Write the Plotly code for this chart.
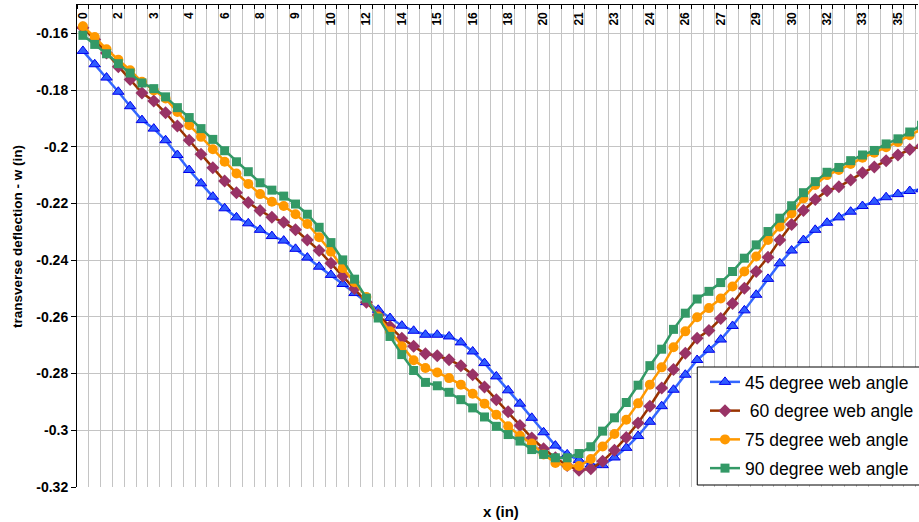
import plotly.graph_objects as go

# ---- data ----
x_tick_labels = ["0", "2", "3", "4", "6", "8", "9", "10", "12", "14", "15", "16",
                 "18", "20", "21", "23", "24", "26", "27", "29", "30", "32", "33", "35"]

w45 = [-0.1662, -0.1709, -0.1756, -0.1806, -0.1857, -0.1906, -0.1936, -0.1977, -0.2029, -0.2082,
       -0.2129, -0.2176, -0.2217, -0.2249, -0.2270, -0.2293, -0.2315, -0.2331, -0.2360, -0.2391,
       -0.2423, -0.2452, -0.2484, -0.2516, -0.2548, -0.2575, -0.2604, -0.2631, -0.2649, -0.2663,
       -0.2663, -0.2669, -0.2690, -0.2722, -0.2763, -0.2810, -0.2859, -0.2906, -0.2956, -0.3007,
       -0.3054, -0.3085, -0.3105, -0.3121, -0.3123, -0.3096, -0.3062, -0.3020, -0.2970, -0.2915,
       -0.2857, -0.2804, -0.2752, -0.2716, -0.2680, -0.2632, -0.2577, -0.2522, -0.2466, -0.2411,
       -0.2366, -0.2329, -0.2293, -0.2268, -0.2249, -0.2229, -0.2209, -0.2194, -0.2178, -0.2167,
       -0.2156, -0.2150]

w60 = [-0.1580, -0.1622, -0.1669, -0.1718, -0.1763, -0.1810, -0.1839, -0.1880, -0.1927, -0.1977,
       -0.2026, -0.2074, -0.2121, -0.2162, -0.2197, -0.2225, -0.2249, -0.2266, -0.2293, -0.2329,
       -0.2366, -0.2411, -0.2456, -0.2500, -0.2548, -0.2593, -0.2634, -0.2675, -0.2704, -0.2730,
       -0.2737, -0.2751, -0.2772, -0.2804, -0.2847, -0.2892, -0.2935, -0.2983, -0.3027, -0.3065,
       -0.3097, -0.3124, -0.3141, -0.3136, -0.3109, -0.3070, -0.3025, -0.2974, -0.2915, -0.2851,
       -0.2786, -0.2728, -0.2675, -0.2648, -0.2606, -0.2553, -0.2499, -0.2440, -0.2390, -0.2329,
       -0.2274, -0.2225, -0.2186, -0.2155, -0.2141, -0.2117, -0.2092, -0.2071, -0.2049, -0.2029,
       -0.2010, -0.1998]

w75 = [-0.1575, -0.1613, -0.1656, -0.1693, -0.1730, -0.1771, -0.1801, -0.1830, -0.1877, -0.1924,
       -0.1965, -0.2009, -0.2053, -0.2094, -0.2131, -0.2167, -0.2194, -0.2209, -0.2238, -0.2272,
       -0.2319, -0.2370, -0.2428, -0.2478, -0.2530, -0.2599, -0.2651, -0.2704, -0.2753, -0.2780,
       -0.2796, -0.2816, -0.2839, -0.2871, -0.2906, -0.2945, -0.2986, -0.3019, -0.3047, -0.3085,
       -0.3115, -0.3126, -0.3126, -0.3101, -0.3057, -0.3013, -0.2963, -0.2905, -0.2839, -0.2778,
       -0.2707, -0.2651, -0.2601, -0.2569, -0.2535, -0.2493, -0.2440, -0.2387, -0.2329, -0.2282,
       -0.2235, -0.2182, -0.2135, -0.2100, -0.2082, -0.2061, -0.2039, -0.2021, -0.2002, -0.1983,
       -0.1959, -0.1939]

w90 = [-0.1607, -0.1639, -0.1672, -0.1707, -0.1740, -0.1775, -0.1795, -0.1824, -0.1862, -0.1897,
       -0.1936, -0.1974, -0.2014, -0.2053, -0.2088, -0.2127, -0.2153, -0.2174, -0.2202, -0.2238,
       -0.2284, -0.2338, -0.2399, -0.2467, -0.2534, -0.2604, -0.2669, -0.2733, -0.2789, -0.2831,
       -0.2843, -0.2866, -0.2892, -0.2921, -0.2953, -0.2986, -0.3015, -0.3038, -0.3068, -0.3085,
       -0.3097, -0.3097, -0.3082, -0.3058, -0.3003, -0.2956, -0.2902, -0.2841, -0.2772, -0.2714,
       -0.2644, -0.2587, -0.2537, -0.2510, -0.2479, -0.2440, -0.2393, -0.2346, -0.2299, -0.2252,
       -0.2208, -0.2162, -0.2123, -0.2090, -0.2073, -0.2049, -0.2029, -0.2013, -0.1990, -0.1972,
       -0.1948, -0.1924]

series_names = ["45 degree web angle", "\u00a060 degree web angle",
                "75 degree web angle", "90 degree web angle"]
y_tick_vals = [-0.32, -0.30, -0.28, -0.26, -0.24, -0.22, -0.20, -0.18, -0.16]
y_tick_text = ["-0.32", "-0.3", "-0.28", "-0.26", "-0.24", "-0.22", "-0.2", "-0.18", "-0.16"]

# ---- figure ----
x_idx = list(range(len(w45)))
label_pos = x_idx[::3][:len(x_tick_labels)]

FONT = "Arial, 'Liberation Sans', sans-serif"
styles = [
    dict(line=dict(color="#3366FF", width=2.5),
         marker=dict(symbol="triangle-up", size=10, color="#2F5BFF",
                     line=dict(color="#0000EE", width=1))),
    dict(line=dict(color="#993300", width=2.5),
         marker=dict(symbol="diamond", size=10, color="#993366",
                     line=dict(color="#993366", width=0))),
    dict(line=dict(color="#FF9900", width=2.5),
         marker=dict(symbol="circle", size=10, color="#FF9900",
                     line=dict(color="#FF9900", width=0))),
    dict(line=dict(color="#339966", width=2.5),
         marker=dict(symbol="square", size=9, color="#339966",
                     line=dict(color="#339966", width=0))),
]

fig = go.Figure()
for i, (name, ys) in enumerate(zip(series_names, [w45, w60, w75, w90])):
    fig.add_trace(go.Scatter(x=x_idx, y=ys, mode="lines+markers", name=name,
                             legendgroup=str(i), **styles[i]))

PW = 842.0
PH = 482.0
def px_x(p):
    return (p - 77) / PW
def px_y(p):
    return (487 - p) / PH

fig.update_layout(
    width=919, height=522,
    margin=dict(l=77, r=0, t=5, b=35),
    paper_bgcolor="white", plot_bgcolor="white",
    font=dict(family=FONT, color="black"),
    showlegend=True,
    legend=dict(x=px_x(706), y=px_y(364), xanchor="left", yanchor="top",
                bgcolor="rgba(0,0,0,0)", borderwidth=0,
                font=dict(family=FONT, size=17.5, color="black"),
                tracegroupgap=3, itemwidth=30),
    xaxis=dict(side="top", range=[-0.5, 70.7],
               tickmode="array", tickvals=label_pos, ticktext=x_tick_labels,
               tickangle=-90, ticklabelposition="inside", ticklabeloverflow="allow",
               tickfont=dict(family=FONT, size=12, color="black", weight="bold"),
               ticks="", showgrid=False, zeroline=False,
               showline=True, linecolor="black", linewidth=1,
               minor=dict(tick0=-0.5, dtick=1, showgrid=True, gridcolor="#C4C4C4",
                          gridwidth=1, ticks="inside", ticklen=4, tickcolor="black")),
    yaxis=dict(range=[-0.32, -0.15], tickmode="array", tickvals=y_tick_vals,
               ticktext=y_tick_text,
               tickfont=dict(family=FONT, size=14, color="black", weight="bold"),
               ticks="outside", ticklen=5, tickcolor="black",
               showgrid=True, gridcolor="#C4C4C4", gridwidth=1, zeroline=False,
               showline=True, linecolor="black", linewidth=1),
    shapes=[
        dict(type="rect", xref="paper", yref="paper", layer="above",
             x0=px_x(698), x1=px_x(940), y0=px_y(485), y1=px_y(367),
             fillcolor="white", line=dict(color="black", width=1)),
    ],
    annotations=[
        dict(text="x (in)", xref="paper", yref="paper", x=px_x(502),
             y=px_y(511), xanchor="center", yanchor="middle", showarrow=False,
             font=dict(family=FONT, size=15, color="black", weight="bold")),
        dict(text="transverse deflection - w (in)", xref="paper", yref="paper",
             x=px_x(18), y=px_y(237), xanchor="center", yanchor="middle",
             textangle=-90, showarrow=False,
             font=dict(family=FONT, size=13.5, color="black", weight="bold")),
    ],
)

fig.write_html("out.html")
